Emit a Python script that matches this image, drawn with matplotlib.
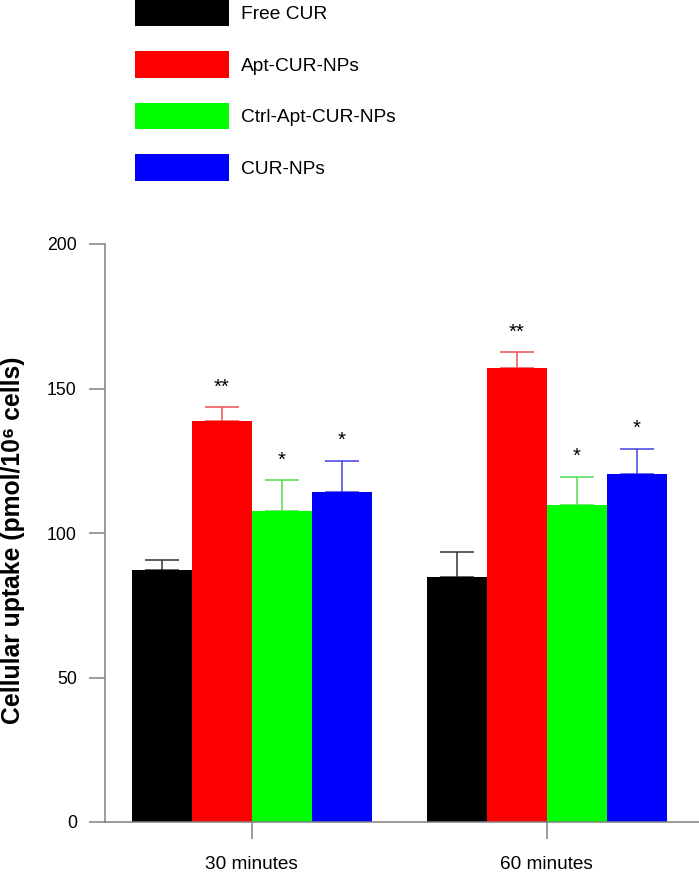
import matplotlib
matplotlib.use('Agg')
import matplotlib.pyplot as plt
import numpy as np

plt.rcParams['font.family'] = ['Liberation Sans', 'DejaVu Sans']

groups = ['30 minutes', '60 minutes']
series = ['Free CUR', 'Apt-CUR-NPs', 'Ctrl-Apt-CUR-NPs', 'CUR-NPs']
free_cur = [87.2, 84.9]
free_cur_err = [3.6, 8.6]
apt_cur = [138.9, 157.2]
apt_cur_err = [4.6, 5.3]
ctrl_apt = [107.6, 109.6]
ctrl_apt_err = [10.7, 9.8]
cur_np = [114.2, 120.3]
cur_np_err = [10.8, 8.9]
marks = ['', '**', '*', '*']

means = [free_cur, apt_cur, ctrl_apt, cur_np]
errs = [free_cur_err, apt_cur_err, ctrl_apt_err, cur_np_err]
colors = ['#000000', '#ff0000', '#00ff00', '#0000ff']
errcolors = ['#333333', '#f05050', '#50e050', '#4040e0']

fig = plt.figure(figsize=(6.99, 8.75), dpi=100)
ax = fig.add_axes([104.7/699, 53/875, 594.3/699, 578/875])

centers = np.array([0, 4.917])
offsets = [-1.5, -0.5, 0.5, 1.5]
handles = []
for i in range(4):
    x = centers + offsets[i]
    b = ax.bar(x, means[i], width=1.0, color=colors[i], linewidth=0, zorder=2)
    handles.append(b)
    ax.errorbar(x, means[i], yerr=[np.zeros(2), errs[i]], fmt='none',
                ecolor=errcolors[i], elinewidth=1.1, capsize=12.2, capthick=1.1, zorder=1)
    if marks[i]:
        for xi, m, e in zip(x, means[i], errs[i]):
            ax.text(xi, m + e + 7, marks[i], ha='center', va='center', fontsize=14.5)

ax.set_xlim(-2.45, 7.455)
ax.set_ylim(0, 200)
ax.set_yticks([0, 50, 100, 150, 200])
ax.set_xticks(centers)
ax.set_xticklabels(groups)

for s in ['top', 'right']:
    ax.spines[s].set_visible(False)
for s in ['left', 'bottom']:
    ax.spines[s].set_color('#808080')
    ax.spines[s].set_linewidth(1.1)

ax.tick_params(axis='y', length=11.5, width=1.1, color='#808080', pad=8.6, labelsize=12.7)
ax.tick_params(axis='x', length=12.2, width=1.1, color='#808080', pad=12.5, labelsize=13.7)

ax.set_ylabel('Cellular uptake (pmol/10\u2076 cells)', fontsize=17.8, fontweight='bold')
ax.yaxis.set_label_coords(-0.134, 0.488)

fig.legend(handles, series, loc='upper left', bbox_to_anchor=(135/699, 1.0),
           frameon=False, borderpad=0, borderaxespad=0, handlelength=4.9,
           handleheight=1.75, labelspacing=1.3, handletextpad=0.64, fontsize=13.8)

fig.savefig('out.png', dpi=100)
